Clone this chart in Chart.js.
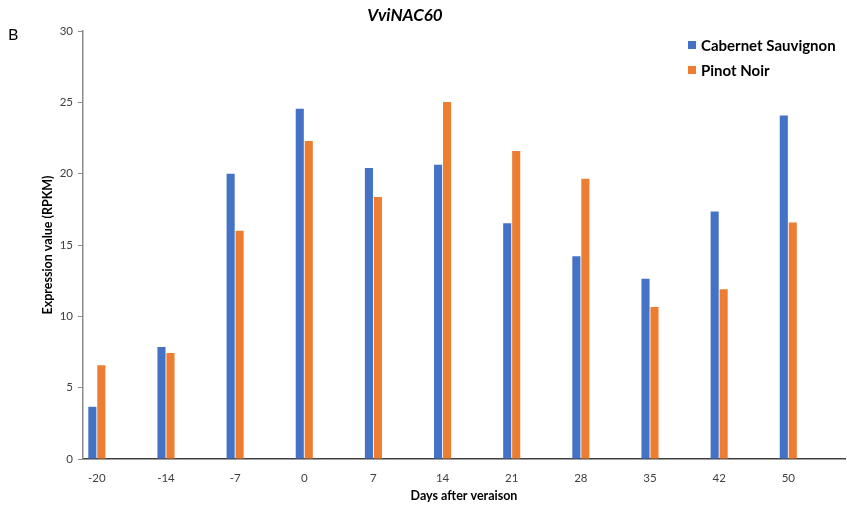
<!DOCTYPE html>
<html>
<head>
<meta charset="utf-8">
<script src="https://cdn.jsdelivr.net/npm/chart.js@4"></script>
<style>
  html, body { margin: 0; padding: 0; background: #fff; }
  #wrap { position: relative; width: 847px; height: 507px; font-family: Lato, "Open Sans", sans-serif; }
  #title { position: absolute; left: 0; width: 810px; top: 4px; text-align: center; font-weight: bold; font-style: italic; font-size: 17px; color: #000; }
  #panel { position: absolute; left: 8px; top: 24px; font-size: 16px; color: #000; }
  #legend { position: absolute; left: 688px; top: 32px; font-size: 15px; font-weight: bold; color: #000; }
  #legend div { height: 25px; display: flex; align-items: center; }
  #legend span { display: inline-block; width: 8px; height: 8px; margin-right: 5px; }
</style>
</head>
<body>
<div id="wrap">
  <canvas id="chart" width="847" height="507"></canvas>
  <div id="title">VviNAC60</div>
  <div id="panel">B</div>
  <div id="legend"></div>
</div>
<script>
var days = ['-20', '-14', '-7', '0', '7', '14', '21', '28', '35', '42', '50'];
var cabernet = [3.66, 7.85, 20.0, 24.55, 20.4, 20.63, 16.52, 14.22, 12.64, 17.34, 24.08];
var pinot = [6.57, 7.43, 16.0, 22.29, 18.37, 25.03, 21.59, 19.64, 10.65, 11.9, 16.57];
var yTicks = [0, 5, 10, 15, 20, 25, 30];

var blue = '#4472C4';
var orange = '#ED7D31';

function points(values) {
    return values.map(function(v, i) { return { x: i, y: v }; });
}

var legend = document.getElementById('legend');
[['Cabernet Sauvignon', blue], ['Pinot Noir', orange]].forEach(function(item) {
    var row = document.createElement('div');
    row.innerHTML = '<span style="background:' + item[1] + '"></span>' + item[0];
    legend.appendChild(row);
});

var ctx = document.getElementById('chart').getContext('2d');
new Chart(ctx, {
    type: 'bar',
    data: {
        datasets: [
            { label: 'Cabernet Sauvignon', data: points(cabernet), backgroundColor: blue },
            { label: 'Pinot Noir', data: points(pinot), backgroundColor: orange }
        ]
    },
    options: {
        responsive: false,
        animation: false,
        datasets: { bar: { categoryPercentage: 0.26, barPercentage: 0.9 } },
        layout: { padding: { top: 31, right: 2, left: 0, bottom: 0 } },
        plugins: { legend: { display: false }, tooltip: { enabled: false } },
        scales: {
            x: {
                type: 'linear',
                offset: false,
                min: -0.2,
                max: 10.82,
                grid: { display: false },
                border: { color: '#404040', width: 1.5 },
                afterBuildTicks: function(axis) {
                    axis.ticks = days.map(function(d, i) { return { value: i }; });
                },
                afterFit: function(axis) { axis.height = 48; },
                ticks: {
                    padding: 4,
                    color: '#404040',
                    font: { family: 'Lato, "Open Sans", sans-serif', size: 11.5 },
                    callback: function(value) { return days[value]; }
                },
                title: {
                    display: true,
                    text: 'Days after veraison',
                    color: '#000',
                    padding: { top: 0, bottom: 4 },
                    font: { family: 'Lato, "Open Sans", sans-serif', size: 12.5, weight: 'bold' }
                }
            },
            y: {
                min: 0,
                max: 30,
                afterBuildTicks: function(axis) {
                    axis.ticks = yTicks.map(function(v) { return { value: v }; });
                },
                afterFit: function(axis) { axis.width = 83; },
                grid: { drawOnChartArea: false, drawTicks: true, tickLength: 5, color: '#8c8c8c' },
                border: { color: '#8c8c8c', width: 1.5 },
                ticks: {
                    padding: 5,
                    color: '#404040',
                    font: { family: 'Lato, "Open Sans", sans-serif', size: 11.5 }
                },
                title: {
                    display: true,
                    text: 'Expression value (RPKM)',
                    color: '#000',
                    padding: { top: 40, bottom: 0 },
                    font: { family: 'Lato, "Open Sans", sans-serif', size: 12.5, weight: 'bold' }
                }
            }
        }
    }
});
</script>
</body>
</html>
